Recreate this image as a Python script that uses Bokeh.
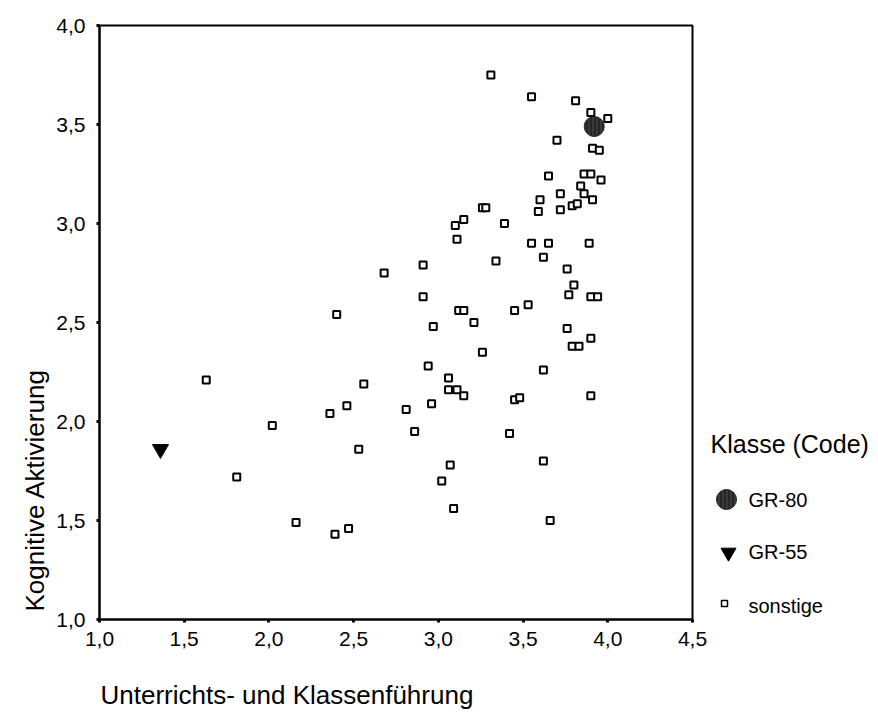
from bokeh.plotting import figure
from bokeh.layouts import row, column
from bokeh.models import Range1d, FixedTicker, CustomJSTickFormatter, Title
from bokeh.core.properties import value
from bokeh.embed import file_html
from bokeh.resources import INLINE

# ---------------- data ----------------
x_ticks = [1.0, 1.5, 2.0, 2.5, 3.0, 3.5, 4.0, 4.5]
y_ticks = [1.0, 1.5, 2.0, 2.5, 3.0, 3.5, 4.0]

x_label = "Unterrichts- und Klassenführung"
y_label = "Kognitive Aktivierung"
legend_title = "Klasse (Code)"
series_names = ["GR-80", "GR-55", "sonstige"]

x_gr80 = [3.92]
y_gr80 = [3.49]

x_gr55 = [1.36]
y_gr55 = [1.86]

x_sonst = [3.31, 3.55, 3.81, 3.90, 4.00, 3.70, 3.91, 3.95, 3.86, 3.90, 3.96, 3.65, 3.84,
           3.86, 3.91, 3.72, 3.60, 3.79, 3.82, 3.59, 3.72, 3.26, 3.28, 3.15, 3.10, 3.39,
           3.11, 3.55, 3.65, 3.89, 3.62, 3.34, 2.91, 2.68, 3.76, 3.80,
           3.77, 3.90, 3.94, 2.91, 3.12, 3.15, 3.45, 3.53, 3.21, 2.97,
           3.76, 3.79, 3.83, 3.90, 3.26, 2.94, 3.62, 3.06, 3.06, 3.11,
           3.15, 3.45, 3.48, 3.90, 2.96, 2.81, 2.86, 3.42,
           2.40, 1.63, 2.56, 2.46, 2.36, 2.02, 2.53, 1.81, 2.16, 2.39, 2.47,
           3.62, 3.07, 3.02, 3.09, 3.66]
y_sonst = [3.75, 3.64, 3.62, 3.56, 3.53, 3.42, 3.38, 3.37, 3.25, 3.25, 3.22, 3.24, 3.19,
           3.15, 3.12, 3.15, 3.12, 3.09, 3.10, 3.06, 3.07, 3.08, 3.08, 3.02, 2.99, 3.00,
           2.92, 2.90, 2.90, 2.90, 2.83, 2.81, 2.79, 2.75, 2.77, 2.69,
           2.64, 2.63, 2.63, 2.63, 2.56, 2.56, 2.56, 2.59, 2.50, 2.48,
           2.47, 2.38, 2.38, 2.42, 2.35, 2.28, 2.26, 2.22, 2.16, 2.16,
           2.13, 2.11, 2.12, 2.13, 2.09, 2.06, 1.95, 1.94,
           2.54, 2.21, 2.19, 2.08, 2.04, 1.98, 1.86, 1.72, 1.49, 1.43, 1.46,
           1.80, 1.78, 1.70, 1.56, 1.50]

# ---------------- styles ----------------
FONT = "Liberation Sans"
TOTAL_H = 709
H = 658             # height of plot row
PW = 710            # main plot width
LW = 160            # legend panel width
BL, BR, BT, BB = 99, 18, 25, 39
FRAME_BOTTOM = H - BB   # 619

SQ = dict(marker="square", fill_color="white", line_color="black")
TRI = dict(marker="inverted_triangle", fill_color="black", line_color="black")
CIR = dict(marker="circle", fill_color="#3a3a3a", line_color="#222222",
           hatch_pattern="vertical_line", hatch_color="#111111",
           hatch_scale=4, hatch_weight=1)

# ---------------- main plot ----------------
p = figure(width=PW, height=H, x_range=Range1d(1.0, 4.5), y_range=Range1d(1.0, 4.0),
           output_backend="svg", toolbar_location=None,
           min_border_left=BL, min_border_right=BR, min_border_top=BT,
           min_border_bottom=BB)
p.xgrid.visible = False
p.ygrid.visible = False
p.outline_line_color = "black"
p.outline_line_width = 2
p.outline_line_alpha = 1

fmt = CustomJSTickFormatter(code="return tick.toFixed(1).replace('.', ',');")
for ax, ticks, sto in ((p.xaxis[0], x_ticks, 9), (p.yaxis[0], y_ticks, 11)):
    ax.ticker = FixedTicker(ticks=ticks)
    ax.formatter = fmt
    ax.axis_line_width = 2
    ax.axis_line_color = "black"
    ax.major_tick_line_width = 3
    ax.major_tick_line_color = "black"
    ax.major_tick_out = 3
    ax.major_tick_in = 0
    ax.minor_tick_out = 0
    ax.minor_tick_in = 0
    ax.major_label_text_font = FONT
    ax.major_label_text_font_size = "21px"
    ax.major_label_text_color = "black"
    ax.major_label_standoff = sto

# y axis title, rotated, starting near the bottom of the frame
p.add_layout(Title(text=y_label, align="left", offset=8, standoff=8,
                   vertical_align="bottom", text_font=FONT, text_font_size="26px",
                   text_font_style="normal", text_color="black"), "left")

p.scatter(x_sonst, y_sonst, size=7, line_width=2, **SQ)
p.scatter(x_gr55, y_gr55, size=16, **TRI)
p.scatter(x_gr80, y_gr80, size=20, **CIR)

# ---------------- legend panel ----------------
# frame aligned with the plot frame (rows 25..619); ranges in page pixels
lg = figure(width=LW, height=H, x_range=Range1d(0, LW), y_range=Range1d(FRAME_BOTTOM, BT),
            output_backend="svg", toolbar_location=None, x_axis_type=None,
            y_axis_type=None, min_border_left=0, min_border_right=0,
            min_border_top=BT, min_border_bottom=BB, outline_line_color=None)
lg.grid.visible = False

lg.text(x=[0], y=[443], text=[legend_title], text_font=value(FONT),
        text_font_size="25px", text_baseline="middle", text_color="black")
lg.scatter([16], [499], size=20, **CIR)
lg.scatter([18], [552], size=15, **TRI)
lg.scatter([14], [603], size=6, line_width=1.5, **SQ)
lg.text(x=[38, 38, 38], y=[499, 551, 605], text=series_names,
        text_font=value(FONT), text_font_size="20px", text_baseline="middle",
        text_color="black")

# ---------------- x axis title strip ----------------
SH = TOTAL_H - H
strip = figure(width=PW + LW, height=SH, x_range=Range1d(0, PW + LW - BL),
               y_range=Range1d(TOTAL_H, H), output_backend="svg",
               toolbar_location=None, x_axis_type=None, y_axis_type=None,
               min_border_left=BL, min_border_right=0, min_border_top=0,
               min_border_bottom=0, outline_line_color=None)
strip.grid.visible = False
strip.text(x=[1], y=[694], text=[x_label], text_font=value(FONT),
           text_font_size="26px", text_baseline="middle", text_color="black")

layout = column(row(p, lg, spacing=0), strip, spacing=0)
open("out.html", "w").write(file_html(layout, INLINE))
